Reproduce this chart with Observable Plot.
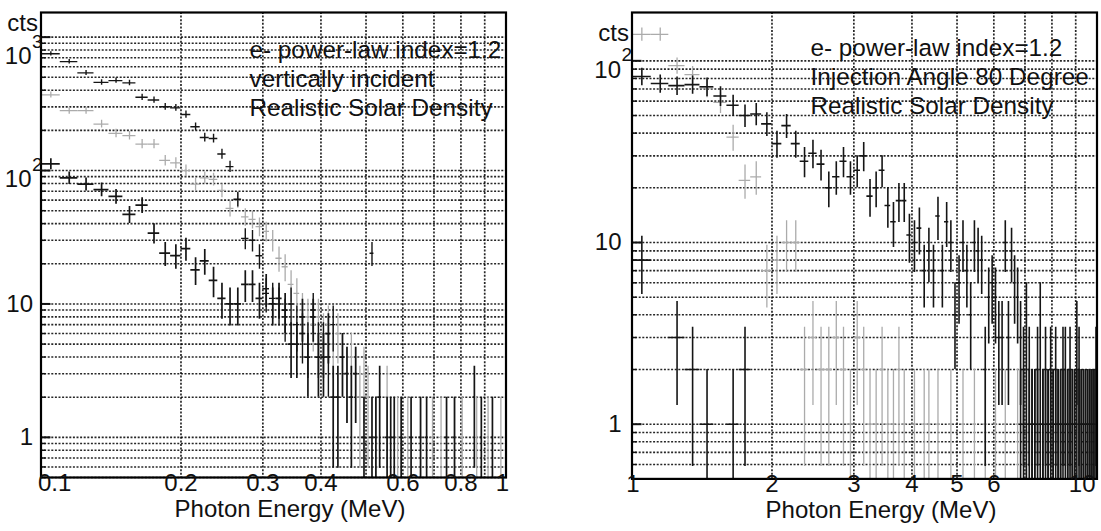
<!DOCTYPE html>
<html><head><meta charset="utf-8">
<script src="https://cdn.jsdelivr.net/npm/d3@7"></script>
<script src="https://cdn.jsdelivr.net/npm/@observablehq/plot@0.6"></script>
<style>
body{margin:0;background:#fff;}
#wrap{display:flex;width:1101px;height:531px;overflow:hidden;}
#wrap svg{display:block;}
</style></head><body><div id="wrap"></div>
<script>
// ---------- LEFT PANEL: bins 0.10..1.00 MeV, width 0.01 ----------
const leftBinStart = 0.1, leftBinWidth = 0.01;
const leftUpperDark = [
750,655,540,458,472,454,354,338,301,295,
263,213,177,174,133,107,61,31,30,23,
12,11,10,8,10,7,6,5,9,5,
5,4,7,0,0,0,0,0,0,0,
0,24,0,0,0,0,0,0,0,0,
0,0,0,0,0,0,0,0,0,0,
0,0,0,0,0,0,0,0,0,0,
0,0,0,0,0,0,0,0,0,0,
0,0,0,0,0,0,0,0,0,0];
const leftLowerDark = [
112,88,79,72,64,47,55,34,24,23,
26,18,21,15,11,10,10,14,14,11,
13,10,11,9,5,5,8,4,8,4,
4,6,2,2,4,3,2,3,0,1,
0,1,1,2,0,1,1,1,0,1,
0,0,1,0,0,1,0,1,0,0,
0,0,0,0,1,0,0,1,0,0,
0,0,0,0,0,2,0,0,1,0,
0,0,0,1,0,0,0,0,0,0];
const leftGray = [
369,281,281,223,190,183,158,158,119,114,
100,79,88,86,71,52,60,45,43,38,
35,30,22,19,14,12,9,8,7,8,
6,7,5,6,4,3,4,3,2,3,
2,0,1,0,0,2,0,0,1,0,
0,1,0,0,0,1,0,0,0,1,
0,0,1,0,0,0,0,1,0,0,
1,0,0,0,0,0,1,0,0,0,
0,1,0,0,0,0,0,1,0,0];

// ---------- RIGHT PANEL: bins 1.0..10.0 MeV, width 0.1 ----------
const rightBinStart = 1.0, rightBinWidth = 0.1;
const rightMainDark = [
82,75,73,74,72,64,57,50,51,45,
35,44,35,28,31,27,20,23,28,23,
25,30,18,20,25,16,13,17,17,11,
10,12,7,9,7,14,7,13,10,4,
6,10,7,4,10,9,8,2,5,6,
5,3,3,10,3,9,6,5,3,2,
4,2,1,1,1,4,1,2,1,1,
1,2,1,1,2,2,1,1,1,1,
3,2,1,1,1,1,1,1,1,2];
const rightLowDark = [
8,0,3,2,1,0,1,2,0,0,
0,0,0,0,0,0,0,0,0,0,
0,0,0,0,0,0,0,0,0,0,
0,0,0,0,0,0,0,0,0,0,
0,0,0,0,0,0,0,0,0,0,
0,0,0,0,0,0,0,0,1,1,
1,1,1,1,2,1,1,1,1,2,
1,1,1,1,1,1,1,2,1,1,
1,1,1,1,1,1,1,1,1,1];
const rightGray = [
140,140,94,84,71,59,38,22,23,7,
8,10,10,2,3,2,2,3,2,1,
3,2,1,1,2,1,1,2,1,0,
1,0,1,1,0,1,0,0,1,0,
0,1,0,0,1,0,0,1,0,0,
1,0,0,1,0,0,0,1,0,0,
1,0,0,0,1,0,0,0,1,0,
0,0,1,0,0,0,0,1,0,0,
0,1,0,0,0,0,1,0,0,0];

// ---------- ticks & labels ----------
const leftXTicks = [0.1,0.2,0.3,0.4,0.6,0.8,1];
const leftXTickLabels = ["0.1","0.2","0.3","0.4","0.6","0.8","1"];
const rightXTicks = [1,2,3,4,5,6,10];
const rightXTickLabels = ["1","2","3","4","5","6","10"];
const leftXGrid = [0.2,0.3,0.4,0.5,0.6,0.7,0.8,0.9];
const rightXGrid = [2,3,4,5,6,7,8,9];
const leftYPlain = [{v:1,t:"1"},{v:10,t:"10"}];
const leftYSup = [{v:100,p:"2"},{v:1000,p:"3"}];
const rightYPlain = [{v:1,t:"1"},{v:10,t:"10"}];
const rightYSup = [{v:100,p:"2"}];
const leftYDomain = [0.5, 1530];
const rightYDomain = [0.5, 184.5];
const leftNotes = ["e- power-law index=1.2","vertically incident","Realistic Solar Density"];
const rightNotes = ["e- power-law index=1.2","Injection Angle 80 Degree","Realistic Solar Density"];
const xTitle = "Photon Energy (MeV)";
const yTitle = "cts";

const FONT = "'Liberation Sans', Arial, Helvetica, sans-serif";

function bins(values, start, width) {
  return values.map((v, i) => ({lo: start + i*width, hi: start + (i+1)*width, c: start + (i+0.5)*width, v, e: Math.sqrt(v)}))
    .filter(d => d.v > 0);
}
function errMarks(data, stroke, sw) {
  return [
    Plot.ruleY(data, {y: "v", x1: "lo", x2: "hi", stroke, strokeWidth: sw, clip: true}),
    Plot.ruleX(data, {x: "c", y1: d => Math.max(d.v - d.e, 0.3), y2: d => d.v + d.e, stroke, strokeWidth: sw, clip: true})
  ];
}
function gridYTicks(domain) {
  const out = [];
  for (let k = -1; k <= 4; k++) for (let m = 1; m <= 9; m++) {
    const v = +(m * Math.pow(10, k)).toPrecision(6);
    if (v >= domain[0] && v <= domain[1]) out.push(v);
  }
  return out;
}

function panel(cfg) {
  const xt = cfg.xTicks.map((v, i) => ({v, t: cfg.xLabels[i]}));
  const first = xt.slice(0, 1), last = xt.slice(-1), mid = xt.slice(1, -1);
  const gy = gridYTicks(cfg.yDomain);
  const majors = gy.filter(v => Math.abs(Math.log10(v) - Math.round(Math.log10(v))) < 1e-9);
  const minors = gy.filter(v => !majors.includes(v));
  const supHigh = cfg.ySup.filter(d => d.v >= 1000), supLow = cfg.ySup.filter(d => d.v < 1000);
  return Plot.plot({
    width: cfg.width, height: 531,
    marginLeft: cfg.ml, marginRight: cfg.mr, marginTop: 12, marginBottom: cfg.mb,
    style: {fontFamily: FONT, fontSize: "24px", color: "#111", background: "#fff"},
    x: {type: "log", domain: cfg.xDomain, axis: null},
    y: {type: "log", domain: cfg.yDomain, axis: null},
    marks: [
      Plot.gridY(gy, {stroke: "#000", strokeOpacity: 0.85, strokeWidth: 1.6, strokeDasharray: "2,1.6"}),
      Plot.gridX(cfg.xGrid, {stroke: "#000", strokeOpacity: 0.85, strokeWidth: 1.7, strokeDasharray: "2,1.6"}),
      Plot.axisY(majors, {anchor: "left", label: null, tickSize: -10, strokeWidth: 2, tickFormat: () => ""}),
      Plot.axisY(minors, {anchor: "left", label: null, tickSize: -5, strokeWidth: 1.5, tickFormat: () => ""}),
      ...errMarks(bins(cfg.gray, cfg.start, cfg.bw), "#ababab", 1.3),
      ...cfg.dark.flatMap(s => errMarks(bins(s.values, cfg.start, cfg.bw), "#151515", s.sw)),
      Plot.frame({stroke: "#000", strokeWidth: 2.2}),
      // y labels
      Plot.text(cfg.yPlain, {y: "v", text: "t", frameAnchor: "left", textAnchor: "end", dx: cfg.dxPlain, fontSize: 24}),
      Plot.text(supHigh, {y: "v", text: () => "10", frameAnchor: "left", textAnchor: "end", dx: cfg.dxBase, dy: 19, fontSize: 24}),
      Plot.text(supHigh, {y: "v", text: "p", frameAnchor: "left", textAnchor: "start", dx: cfg.dxBase + 0.5, dy: 5, fontSize: 19}),
      Plot.text(supLow, {y: "v", text: () => "10", frameAnchor: "left", textAnchor: "end", dx: cfg.dxBase, dy: 9, fontSize: 24}),
      Plot.text(supLow, {y: "v", text: "p", frameAnchor: "left", textAnchor: "start", dx: cfg.dxBase + 0.5, dy: -6, fontSize: 19}),
      // x labels
      Plot.text(first, {x: "v", text: "t", frameAnchor: "bottom", textAnchor: cfg.firstAnchor, dx: cfg.firstDx, dy: 13, fontSize: 24}),
      Plot.text(mid, {x: "v", text: "t", frameAnchor: "bottom", dy: 13, fontSize: 24}),
      Plot.text(last, {x: "v", text: "t", frameAnchor: "bottom", textAnchor: cfg.lastAnchor, dx: cfg.lastDx, dy: 13, fontSize: 24}),
      Plot.text([xTitle], {frameAnchor: "bottom", dx: 16.5, dy: 39, fontSize: 24}),
      Plot.text([yTitle], {frameAnchor: "top-left", textAnchor: "end", dx: -3, dy: cfg.ctsDy, fontSize: 24}),
      Plot.text([cfg.notes.join("\n")], {frameAnchor: "top-left", textAnchor: "start", lineAnchor: "top", lineHeight: 29/24.3, dx: cfg.notesDx, dy: cfg.notesDy, fontSize: 24.3})
    ]
  });
}

const wrap = document.getElementById("wrap");
wrap.appendChild(panel({
  width: 550, ml: 40.5, mr: 44.5, mb: 54,
  xDomain: [0.1, 1], yDomain: leftYDomain, start: leftBinStart, bw: leftBinWidth,
  gray: leftGray,
  dark: [{values: leftUpperDark, sw: 1.4}, {values: leftLowerDark, sw: 1.7}],
  xGrid: leftXGrid, xTicks: leftXTicks, xLabels: leftXTickLabels,
  firstAnchor: "start", firstDx: -3, lastAnchor: "middle", lastDx: -3.5,
  yPlain: leftYPlain, ySup: leftYSup, dxPlain: -8, dxBase: -9.5,
  ctsDy: 1.5, notes: leftNotes, notesDx: 208.5, notesDy: 25
}));
wrap.appendChild(panel({
  width: 551, ml: 81.5, mr: 4.5, mb: 52.6,
  xDomain: [1, 10], yDomain: rightYDomain, start: rightBinStart, bw: rightBinWidth,
  gray: rightGray,
  dark: [{values: rightLowDark, sw: 1.6}, {values: rightMainDark, sw: 1.6}],
  xGrid: rightXGrid, xTicks: rightXTicks, xLabels: rightXTickLabels,
  firstAnchor: "middle", firstDx: 1, lastAnchor: "end", lastDx: -1.5,
  yPlain: rightYPlain, ySup: rightYSup, dxPlain: -10.5, dxBase: -11,
  ctsDy: 11, notes: rightNotes, notesDx: 178.5, notesDy: 23
}));
</script></body></html>
